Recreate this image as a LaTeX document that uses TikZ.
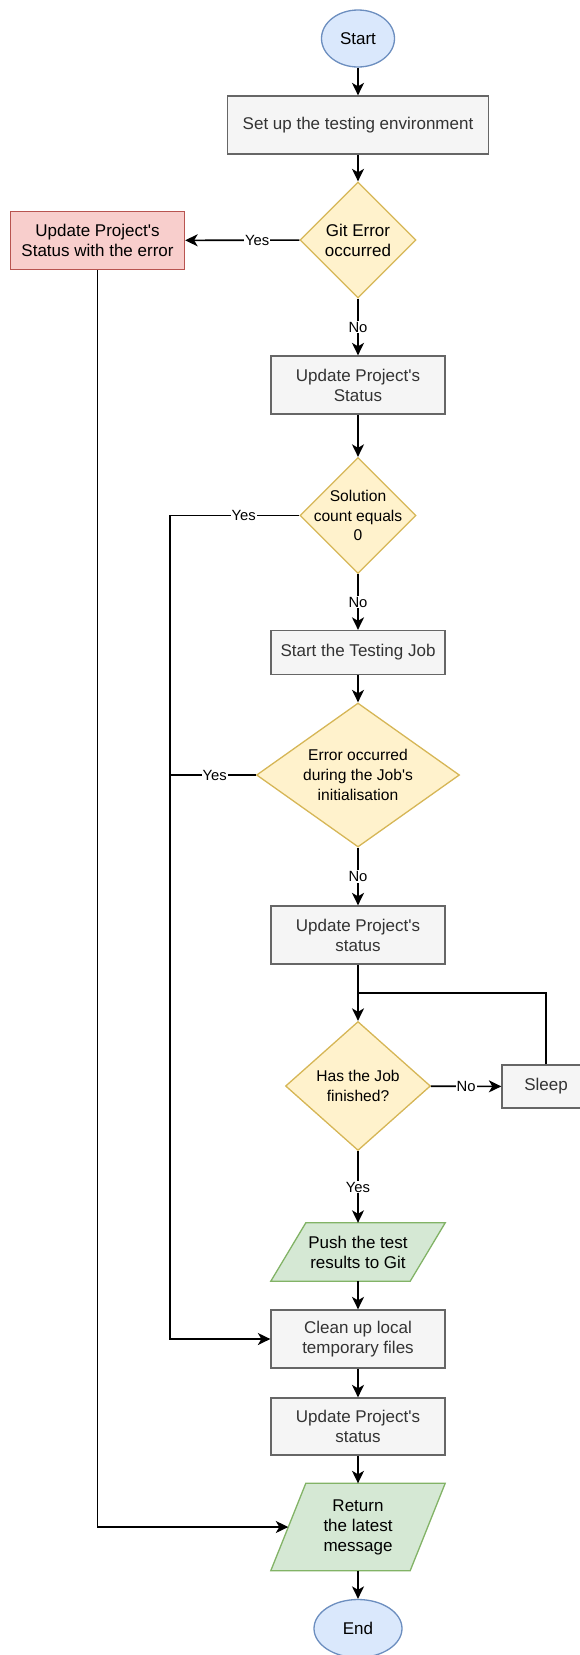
\documentclass[tikz,border=0pt]{standalone}
\usepackage{fontspec}
\setmainfont{Liberation Sans}
\usepackage{tikz}
\usetikzlibrary{shapes.geometric}
\usetikzlibrary{arrows.meta}
\usetikzlibrary{backgrounds}

\definecolor{termfill}{HTML}{DAE8FC}
\definecolor{termline}{HTML}{6C8EBF}
\definecolor{procfill}{HTML}{F5F5F5}
\definecolor{procline}{HTML}{666666}
\definecolor{proctext}{HTML}{333333}
\definecolor{decfill}{HTML}{FFF2CC}
\definecolor{decline}{HTML}{D6B656}
\definecolor{errfill}{HTML}{F8CECC}
\definecolor{errline}{HTML}{B85450}
\definecolor{iofill}{HTML}{D5E8D4}
\definecolor{ioline}{HTML}{82B366}

\newcommand{\bigtxt}{\fontsize{17}{20}\selectfont}
\newcommand{\smalltxt}{\fontsize{15.6}{19.8}\selectfont}
\newcommand{\lbltxt}{\fontsize{14.8}{17}\selectfont}
\newcommand{\ap}{\textquotesingle}

\begin{document}
\begin{tikzpicture}[x=1pt, y=-1pt,
	term/.style={ellipse, draw=termline, fill=termfill, line width=1.3pt, inner sep=0pt, font=\bigtxt},
	proc/.style={rectangle, draw=procline, fill=procfill, line width=1.3pt, minimum width=174pt, minimum height=58pt, inner sep=0pt, align=center, text=proctext, font=\bigtxt},
	errbox/.style={proc, draw=errline, fill=errfill, text=black},
	decision/.style={diamond, draw=decline, fill=decfill, line width=1.3pt, inner sep=0pt},
	dectext/.style={align=center, font=\smalltxt},
	io/.style={rectangle, minimum width=174pt, minimum height=58pt, inner sep=0pt, align=center, font=\bigtxt},
	arr/.style={line width=1.6pt, -{Stealth[length=12.5pt, width=12pt, inset=3.5pt]}},
	line/.style={line width=1.6pt},
	lbl/.style={fill=white, inner sep=1pt, font=\lbltxt}]

  \useasboundingbox (0,0) rectangle (580,1655);
  \clip (0,0) rectangle (580,1655);

  \node[term, minimum width=73pt, minimum height=57pt] (start) at (358, 38.5) {Start};
  \node[proc, minimum width=261pt] (setup) at (358, 125) {Set up the testing environment};
  \node[decision, minimum width=116pt, minimum height=116pt,
    label={[dectext, font=\bigtxt]center:Git Error\\occurred}] (giterr) at (358, 240) {};
  \node[errbox] (redbox) at (97.5, 240.5) {Update Project\ap s\\Status with the error};
  \node[proc] (status1) at (358, 385) {Update Project\ap s\\Status};
  \node[decision, minimum width=116pt, minimum height=116pt,
    label={[dectext]center:Solution\\count equals\\0}] (solution) at (358, 515.5) {};
  \node[proc, minimum height=44pt] (startjob) at (358, 652.5) {Start the Testing Job};
  \node[decision, minimum width=203pt, minimum height=144pt,
    label={[dectext]center:Error occurred\\during the Job\ap s\\initialisation}] (errinit) at (358, 775) {};
  \node[proc] (status2) at (358, 935) {Update Project\ap s\\status};
  \node[decision, minimum width=145pt, minimum height=129pt,
    label={[dectext]center:Has the Job\\finished?}] (finished) at (358, 1086) {};
  \node[proc, minimum width=88pt, minimum height=43pt] (sleep) at (546, 1086.5) {Sleep};
  \node[io] (push) at (358, 1252) {Push the test\\results to Git};
  \node[proc] (cleanup) at (358, 1339) {Clean up local\\temporary files};
  \node[proc, minimum height=57pt] (status3) at (358, 1426.5) {Update Project\ap s\\status};
  \node[io, minimum height=87pt] (ret) at (358, 1527) {Return\\the latest\\message};
  \node[term, minimum width=88pt, minimum height=58pt] (stop) at (358, 1628.5) {End};

  \begin{scope}[on background layer]
    \foreach \n in {push, ret}
      \draw[line width=1.3pt, draw=ioline, fill=iofill]
        ([xshift=35pt]\n.north west) -- (\n.north east) -- ([xshift=-35pt]\n.south east) -- (\n.south west) -- cycle;
  \end{scope}

  \coordinate (busl) at (170, 0);
  \coordinate (loopj) at (358, 993);

  \draw[arr] (start) -- (setup);
  \draw[arr] (setup) -- (giterr);
  \draw[arr] (giterr) -- node[lbl, pos=0.37] {Yes} (redbox);
  \draw[arr] (giterr) -- node[lbl] {No} (status1);
  \draw[arr] (redbox) |- ([xshift=17.5pt]ret.west);
  \draw[arr] (status1) -- (solution);
  \draw[arr] (solution) -- node[lbl] {No} (startjob);
  \draw[arr] (solution) -- node[lbl, pos=0.43] {Yes} (solution -| busl) |- (cleanup);
  \draw[arr] (startjob) -- (errinit);
  \draw[line] (errinit) -- node[lbl, pos=0.48] {Yes} (errinit -| busl);
  \draw[arr] (errinit) -- node[lbl] {No} (status2);
  \draw[arr] (status2) -- (finished);
  \draw[arr] (finished) -- node[lbl] {No} (sleep);
  \draw[line] (sleep) |- (loopj);
  \draw[arr] (finished) -- node[lbl] {Yes} (push);
  \draw[arr] (push) -- (cleanup);
  \draw[arr] (cleanup) -- (status3);
  \draw[arr] (status3) -- (ret);
  \draw[arr] (ret) -- (stop);

\end{tikzpicture}
\end{document}
